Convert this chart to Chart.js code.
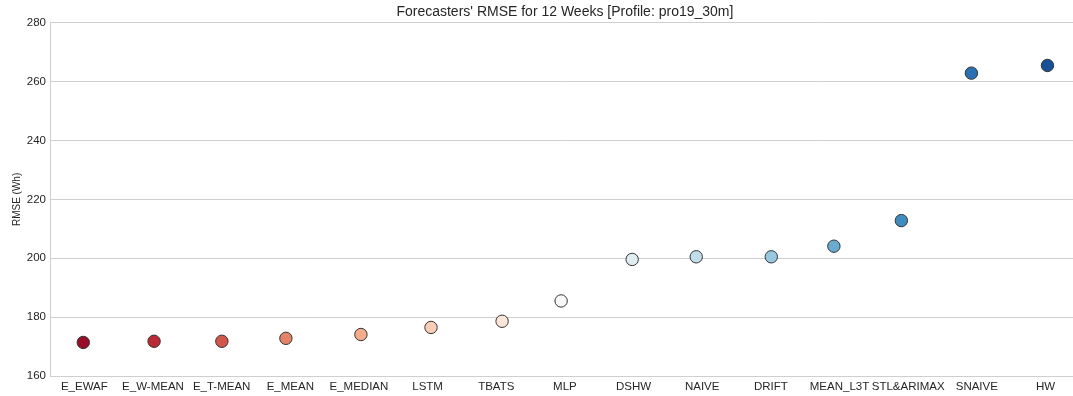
<!DOCTYPE html>
<html>
<head>
<meta charset="utf-8">
<title>Forecasters' RMSE</title>
<script src="https://cdn.jsdelivr.net/npm/chart.js@4/dist/chart.umd.min.js"></script>
<style>
  html, body { margin: 0; padding: 0; background: #fff; overflow: hidden; }
  #wrap { width: 1087px; height: 396px; }
</style>
</head>
<body>
<div id="wrap"><canvas id="rmseChart" width="1087" height="396"></canvas></div>
<script>
// forecasters, sorted by RMSE
const forecasters = ['E_EWAF','E_W-MEAN','E_T-MEAN','E_MEAN','E_MEDIAN','LSTM','TBATS','MLP',
  'DSHW','NAIVE','DRIFT','MEAN_L3T','STL&ARIMAX','SNAIVE','HW'];
const rmse = [171.4, 171.8, 171.8, 172.8, 174.1, 176.5, 178.6, 185.5,
  199.6, 200.5, 200.5, 204.1, 212.8, 262.9, 265.5];
// strip-plot jitter (in category units)
const jitter = [-0.015, 0.016, 0.003, -0.064, 0.029, 0.05, 0.085, -0.055,
  -0.02, -0.087, 0.006, -0.082, -0.099, -0.079, 0.029];
// RdBu palette, 15 steps
const palette = ['#960f27','#bb2a34','#d25749','#e58368','#f5ac8b','#fbcdb6','#fbe5d8','#f7f7f7',
  '#dfecf2','#c1ddeb','#98c8e0','#6aacd0','#3f8dc0','#2a70b2','#175299'];
const yTicks = [160, 180, 200, 220, 240, 260, 280];

const FONT = '"Liberation Sans", Arial, sans-serif';
const TXT = '#262626';
const GRID = '#cfcfcf';

const ctx = document.getElementById('rmseChart').getContext('2d');
new Chart(ctx, {
  type: 'scatter',
  data: {
    datasets: [{
      data: forecasters.map((f, i) => ({x: i + jitter[i], y: rmse[i]})),
      backgroundColor: palette,
      borderColor: '#333333',
      borderWidth: 1,
      pointRadius: 6.2,
      pointHoverRadius: 6.2
    }]
  },
  options: {
    responsive: false,
    animation: false,
    layout: {padding: {left: 0, right: 1, top: 0, bottom: 0}},
    plugins: {
      legend: {display: false},
      tooltip: {enabled: false},
      title: {
        display: true,
        fullSize: false,
        text: "Forecasters' RMSE for 12 Weeks [Profile: pro19_30m]",
        color: TXT,
        font: {family: FONT, size: 14, weight: 'normal', lineHeight: 1.2},
        padding: {top: 4, bottom: 2}
      }
    },
    scales: {
      x: {
        type: 'linear',
        min: -0.5,
        max: forecasters.length - 0.5,
        afterBuildTicks: s => { s.ticks = forecasters.map((f, i) => ({value: i})); },
        afterFit: s => { s.height = 20; s.paddingLeft = 0; s.paddingRight = 0; },
        grid: {display: false, drawTicks: false},
        border: {display: true, color: GRID, width: 1},
        ticks: {
          autoSkip: false,
          maxRotation: 0,
          padding: 4,
          color: TXT,
          font: {family: FONT, size: 11.5},
          callback: v => forecasters[v] ?? ''
        }
      },
      y: {
        min: 160,
        max: 280,
        afterBuildTicks: s => { s.ticks = yTicks.map(v => ({value: v})); },
        afterFit: s => { s.width = 50; },
        grid: {color: GRID, lineWidth: 1, drawTicks: false},
        border: {display: true, color: GRID, width: 1},
        ticks: {
          padding: 4,
          color: TXT,
          font: {family: FONT, size: 11.5}
        },
        title: {
          display: true,
          text: 'RMSE (Wh)',
          color: TXT,
          font: {family: FONT, size: 10},
          padding: {top: 11, bottom: 2}
        }
      }
    }
  }
});
</script>
</body>
</html>
